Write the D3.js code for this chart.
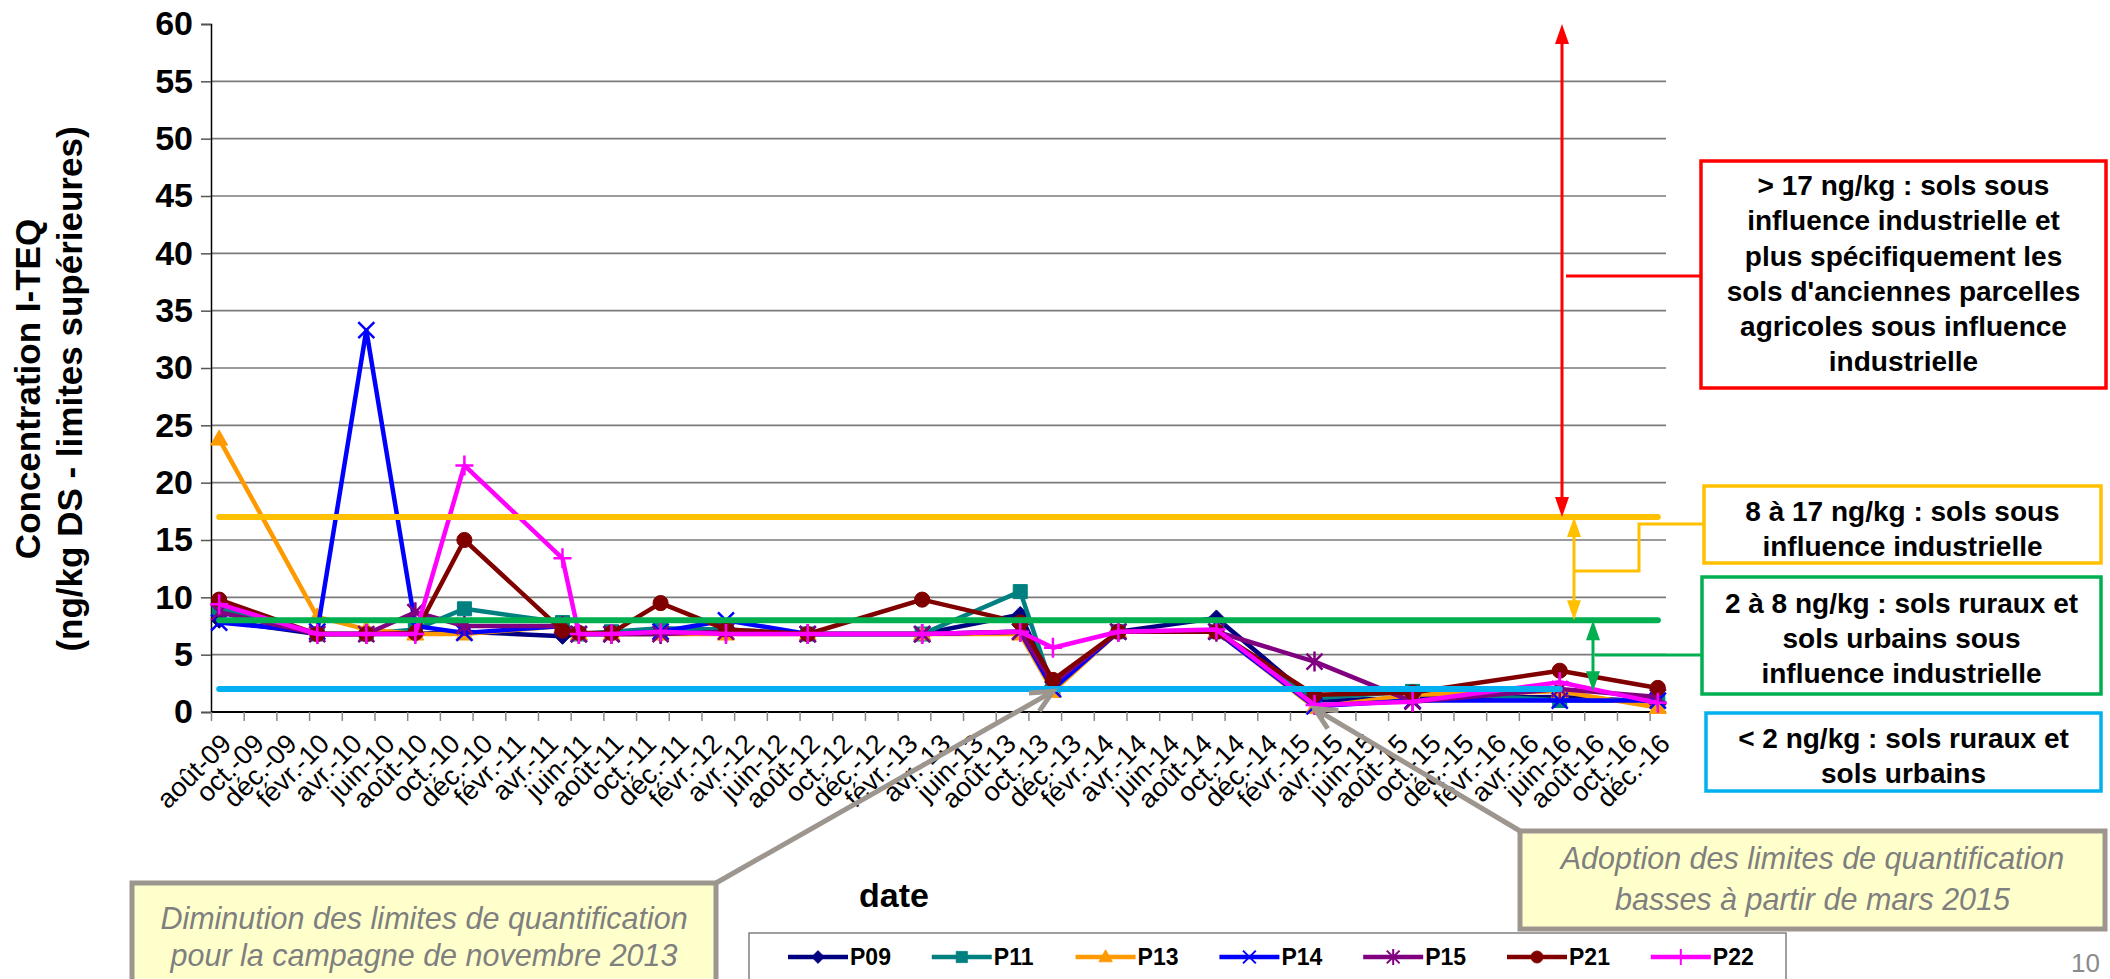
<!DOCTYPE html>
<html><head><meta charset="utf-8">
<script src="https://cdn.jsdelivr.net/npm/d3@7/dist/d3.min.js"></script>
<style>body{margin:0;background:#fff}svg{display:block}</style>
</head><body>
<svg id="c" width="2110" height="979"></svg>
<script>
// ---------- data ----------
const dates = ["2009-08","2010-02","2010-05","2010-08","2010-11","2011-05","2011-06","2011-08","2011-11","2012-03","2012-08","2013-03","2013-09","2013-11","2014-03","2014-09","2015-03","2015-09","2016-06","2016-12"];
const P09 = [8.0,6.8,6.8,6.8,7.0,6.6,6.8,6.8,6.8,7.0,6.8,6.8,8.5,2.3,7.0,8.2,1.0,1.2,1.3,0.9];
const P11 = [9.0,6.8,6.8,7.2,9.0,7.8,6.8,7.0,7.3,7.2,6.8,6.8,10.5,2.0,7.0,7.0,1.2,1.8,1.0,1.0];
const P13 = [23.8,8.3,7.2,6.8,6.8,7.5,6.8,6.8,6.8,6.8,6.8,6.8,6.8,1.8,7.0,7.0,0.4,1.5,1.8,0.4];
const P14 = [7.8,7.0,33.3,7.5,6.9,7.5,6.8,6.8,7.0,8.0,6.8,6.8,7.0,2.0,7.0,7.0,0.5,1.0,1.0,1.0];
const P15 = [8.7,6.8,6.8,8.7,7.5,7.5,6.8,6.8,6.8,7.0,6.8,6.8,7.0,2.5,7.0,7.0,4.4,0.9,2.0,1.3];
const P21 = [9.8,6.8,6.8,6.9,15.0,7.1,6.9,6.9,9.5,7.2,6.8,9.8,7.8,2.8,7.0,7.0,1.5,1.7,3.6,2.1];
const P22 = [9.4,6.8,6.8,6.8,21.5,13.4,6.8,6.8,7.0,6.8,6.8,6.8,7.0,5.6,7.0,7.2,0.6,0.9,2.6,0.8];
const seriesNames = ["P09","P11","P13","P14","P15","P21","P22"];
const seriesValues = [P09,P11,P13,P14,P15,P21,P22];
const seriesColors = ["#000080","#008080","#ff9900","#0000ff","#800080","#800000","#ff00ff"];
const seriesMarkers = ["diamond","square","triangle","x","star","circle","plus"];

const thresholdValues = [17, 8, 2];
const thresholdColors = ["#ffc000","#00b050","#00b0f0"];
const thresholdStart = ["2009-08","2009-08","2009-08"];
const thresholdEnd = ["2016-12","2016-12","2016-06"];

const xTickLabels = ["août-09","oct.-09","déc.-09","févr.-10","avr.-10","juin-10","août-10","oct.-10","déc.-10","févr.-11","avr.-11","juin-11","août-11","oct.-11","déc.-11","févr.-12","avr.-12","juin-12","août-12","oct.-12","déc.-12","févr.-13","avr.-13","juin-13","août-13","oct.-13","déc.-13","févr.-14","avr.-14","juin-14","août-14","oct.-14","déc.-14","févr.-15","avr.-15","juin-15","août-15","oct.-15","déc.-15","févr.-16","avr.-16","juin-16","août-16","oct.-16","déc.-16"];
const yTicks = [0,5,10,15,20,25,30,35,40,45,50,55,60];

const rangeBoxes = [
  {color:"#ff0000", lines:["> 17 ng/kg : sols sous","influence industrielle et","plus spécifiquement les","sols d'anciennes parcelles","agricoles sous influence","industrielle"]},
  {color:"#ffc000", lines:["8 à 17 ng/kg : sols sous","influence industrielle"]},
  {color:"#00b050", lines:["2 à 8 ng/kg : sols ruraux et","sols urbains sous","influence industrielle"]},
  {color:"#00b0f0", lines:["< 2 ng/kg : sols ruraux et","sols urbains"]}
];
const noteTexts = [
  ["Diminution des limites de quantification","pour la campagne de novembre 2013"],
  ["Adoption des limites de quantification","basses à partir de mars 2015"]
];
const noteDates = ["2013-11","2015-03"];
const noteValues = [1.8, 0.3];

// ---------- helpers ----------
const origin = 2009*12 + 7; // août 2009
const monthIndex = s => { const [y,m] = s.split("-").map(Number); return y*12 + (m-1) - origin; };
const svg = d3.select("#c");
const FONT = "'Liberation Sans', Arial, sans-serif";

const x = d3.scaleLinear().domain([0, 89]).range([211, 1666]);
const y = d3.scaleLinear().domain([0, 60]).range([712, 24]);
const px = s => x(monthIndex(s) + 0.5);

svg.append("rect").attr("width",2110).attr("height",979).attr("fill","#fff");

// gridlines
svg.append("g").selectAll("line").data(yTicks.filter(v => v > 0 && v < 60)).join("line")
  .attr("x1", x(0)).attr("x2", x(89)).attr("y1", d => y(d)).attr("y2", d => y(d))
  .attr("stroke", "#7a7a7a").attr("stroke-width", 1.6);

// y axis
const yAxis = svg.append("g").attr("transform", `translate(${x(0)},0)`)
  .call(d3.axisLeft(y).tickValues(yTicks).tickSize(10).tickPadding(8));
yAxis.select(".domain").attr("stroke","#000").attr("stroke-width",1.5);
yAxis.selectAll(".tick line").attr("stroke","#555").attr("stroke-width",1.5);
yAxis.selectAll(".tick text").attr("font-family",FONT).attr("font-size",34).attr("font-weight","bold").attr("fill","#000");

// x axis
const xTickVals = xTickLabels.map((d,i) => i*2);
const xAxis = svg.append("g").attr("transform", `translate(0,${y(0)})`)
  .call(d3.axisBottom(x).tickValues(xTickVals).tickSize(9).tickFormat((d,i) => xTickLabels[i]));
xAxis.select(".domain").attr("stroke","#000").attr("stroke-width",2).attr("d", `M${x(0)},0H${x(89)}`);
xAxis.selectAll(".tick line").attr("stroke","#888").attr("stroke-width",1.5);
xAxis.selectAll(".tick text").attr("font-family",FONT).attr("font-size",27).attr("fill","#000")
  .attr("text-anchor","end").attr("dy",null).attr("y",null)
  .attr("transform","translate(15,27) rotate(-45)")
  .attr("dominant-baseline","central");

// axis titles
const yt = svg.append("text").attr("font-family",FONT).attr("font-size",35).attr("font-weight","bold")
  .attr("text-anchor","middle").attr("transform","translate(40,389) rotate(-90)");
yt.append("tspan").attr("x",0).attr("y",0).text("Concentration I-TEQ");
yt.append("tspan").attr("x",0).attr("y",42).text("(ng/kg DS - limites supérieures)");
svg.append("text").attr("x",894).attr("y",907).attr("font-family",FONT).attr("font-size",34)
  .attr("font-weight","bold").attr("text-anchor","middle").text("date");

// markers
function markerPath(type){
  const s = 8;
  switch(type){
    case "diamond": return `M0,${-s}L${s},0L0,${s}L${-s},0Z`;
    case "square": return `M${-7},${-7}H7V7H-7Z`;
    case "triangle": return `M0,${-9}L8.5,6L-8.5,6Z`;
    case "circle": return d3.symbol(d3.symbolCircle, 180)();
    case "x": return `M-8,-8L8,8M-8,8L8,-8`;
    case "star": return `M-8,-8L8,8M-8,8L8,-8M0,-10V10`;
    case "plus": return `M-9,0H9M0,-10V10`;
  }
}
const filled = t => ["diamond","square","triangle","circle"].includes(t);

// series
const line = d3.line().x((d,i) => px(dates[i])).y(d => y(d));
seriesValues.forEach((vals, k) => {
  const g = svg.append("g");
  g.append("path").attr("d", line(vals)).attr("fill","none").attr("stroke",seriesColors[k])
    .attr("stroke-width",4.5).attr("stroke-linejoin","round");
  g.selectAll("path.m").data(vals).join("path").attr("class","m")
    .attr("transform",(d,i) => `translate(${px(dates[i])},${y(d)})`)
    .attr("d", markerPath(seriesMarkers[k]))
    .attr("fill", filled(seriesMarkers[k]) ? seriesColors[k] : "none")
    .attr("stroke", seriesColors[k]).attr("stroke-width", filled(seriesMarkers[k]) ? 1 : 2.5);
});

// thresholds
thresholdValues.forEach((v,k) => {
  svg.append("line").attr("x1",px(thresholdStart[k])).attr("x2",px(thresholdEnd[k]))
    .attr("y1",y(v)).attr("y2",y(v)).attr("stroke",thresholdColors[k])
    .attr("stroke-width",6).attr("stroke-linecap","round");
});

// double arrows between thresholds
function dArrow(xp, v1, v2, color, w){
  const y1 = y(v1), y2 = y(v2);
  const up = y1 < y2 ? 1 : -1;
  svg.append("line").attr("x1",xp).attr("x2",xp).attr("y1",y1+up*18).attr("y2",y2-up*18)
    .attr("stroke",color).attr("stroke-width",w);
  [[y1,up],[y2,-up]].forEach(([yy,dir]) => {
    svg.append("path").attr("d",`M${xp},${yy}L${xp+7},${yy+dir*20}L${xp-7},${yy+dir*20}Z`).attr("fill",color);
  });
}
dArrow(1562, 60, 17, "#ff0000", 3);
dArrow(1574, 17, 8, "#ffc000", 3);
dArrow(1593, 8, 1.8, "#00b050", 3);

// leader lines
svg.append("polyline").attr("points","1566,276 1701,276").attr("stroke","#ff0000").attr("stroke-width",3).attr("fill","none");
svg.append("polyline").attr("points","1704,524 1639,524 1639,571 1574,571").attr("stroke","#ffc000").attr("stroke-width",3).attr("fill","none");
svg.append("polyline").attr("points","1702,655 1595,655").attr("stroke","#00b050").attr("stroke-width",3).attr("fill","none");

// range boxes
const boxGeom = [
  {x:1701,y:161,w:405,h:227,cy:[185,220,256,291,326,361]},
  {x:1704,y:486,w:397,h:77,cy:[511,546]},
  {x:1702,y:577,w:399,h:117,cy:[603,638,673]},
  {x:1706,y:713,w:395,h:78,cy:[738,773]}
];
rangeBoxes.forEach((b,k) => {
  const gm = boxGeom[k];
  svg.append("rect").attr("x",gm.x).attr("y",gm.y).attr("width",gm.w).attr("height",gm.h)
    .attr("fill","#fff").attr("stroke",b.color).attr("stroke-width",3.5);
  b.lines.forEach((t,i) => {
    svg.append("text").attr("x",gm.x+gm.w/2).attr("y",gm.cy[i]).attr("dominant-baseline","central")
      .attr("text-anchor","middle").attr("font-family",FONT).attr("font-size",28).attr("font-weight","bold")
      .attr("fill","#000").text(t);
  });
});

// note boxes
const noteGeom = [
  {x:132,y:883,w:584,h:120,cy:[918,955],ax:716,ay:883},
  {x:1520,y:831,w:585,h:98,cy:[858,899],ax:1520,ay:831}
];
noteTexts.forEach((lines,k) => {
  const gm = noteGeom[k];
  const tx = px(noteDates[k]), ty = y(noteValues[k]) ;
  const ang = Math.atan2(gm.ay - ty, gm.ax - tx);
  svg.append("line").attr("x1",gm.ax).attr("y1",gm.ay).attr("x2",tx).attr("y2",ty)
    .attr("stroke","#9c968e").attr("stroke-width",5);
  const L = 24, a = 0.45;
  svg.append("polyline").attr("points",
     `${tx+L*Math.cos(ang+a)},${ty+L*Math.sin(ang+a)} ${tx},${ty} ${tx+L*Math.cos(ang-a)},${ty+L*Math.sin(ang-a)}`)
    .attr("fill","none").attr("stroke","#9c968e").attr("stroke-width",5);
  svg.append("rect").attr("x",gm.x).attr("y",gm.y).attr("width",gm.w).attr("height",gm.h)
    .attr("fill","#ffffcc").attr("stroke","#9c968e").attr("stroke-width",5);
  lines.forEach((t,i) => {
    svg.append("text").attr("x",gm.x+gm.w/2).attr("y",gm.cy[i]).attr("dominant-baseline","central")
      .attr("text-anchor","middle").attr("font-family",FONT).attr("font-size",30.5).attr("font-style","italic")
      .attr("fill","#7f7f7f").text(t);
  });
});

// legend
const lg = svg.append("g");
lg.append("rect").attr("x",749).attr("y",933).attr("width",1037).attr("height",70)
  .attr("fill","#fff").attr("stroke","#808080").attr("stroke-width",1.5);
seriesNames.forEach((n,k) => {
  const x0 = 788 + k*143.8, yc = 957;
  lg.append("line").attr("x1",x0).attr("x2",x0+60).attr("y1",yc).attr("y2",yc)
    .attr("stroke",seriesColors[k]).attr("stroke-width",4.5);
  lg.append("path").attr("transform",`translate(${x0+30},${yc}) scale(0.8)`).attr("d",markerPath(seriesMarkers[k]))
    .attr("fill", filled(seriesMarkers[k]) ? seriesColors[k] : "none").attr("stroke",seriesColors[k])
    .attr("stroke-width", filled(seriesMarkers[k]) ? 1 : 2.5);
  lg.append("text").attr("x",x0+62).attr("y",yc).attr("dominant-baseline","central")
    .attr("font-family",FONT).attr("font-size",23).attr("font-weight","bold").text(n);
});

// page number
svg.append("text").attr("x",2100).attr("y",972).attr("text-anchor","end").attr("font-family",FONT)
  .attr("font-size",26).attr("fill","#8a8a8a").text("10");
</script>
</body></html>
